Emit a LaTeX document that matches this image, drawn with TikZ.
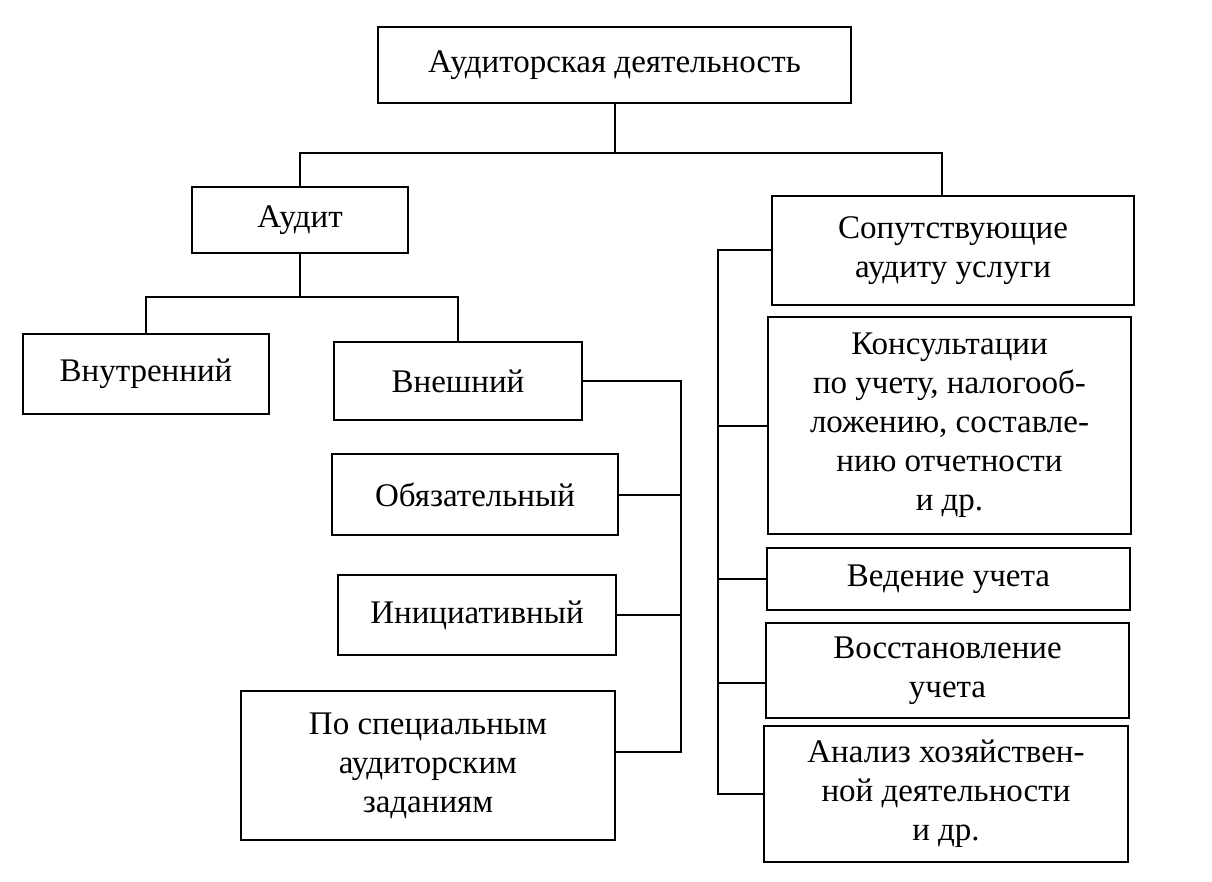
\documentclass[tikz,border=0pt]{standalone}
\usepackage{fontspec}
\setmainfont{Liberation Serif}
\begin{document}
\begin{tikzpicture}[x=1pt,y=-1pt,
  box/.style={draw, line width=2.8pt, inner sep=0pt, align=center,
    font=\fontsize{33}{39}\selectfont},
  con/.style={line width=2pt}]
\useasboundingbox (0,0) rectangle (1212,882);
\node[box, minimum width=473pt, minimum height=76pt] (top) at (614.5,65) {Аудиторская деятельность};
\node[box, minimum width=216pt, minimum height=66pt] (audit) at (300,220) {Аудит};
\node[box, minimum width=362pt, minimum height=109pt] (sop) at (953,250.5) {Сопутствующие\\аудиту услуги};
\node[box, minimum width=246pt, minimum height=80pt] (vnutr) at (146,374) {Внутренний};
\node[box, minimum width=248pt, minimum height=78pt] (vnesh) at (458,381) {Внешний};
\node[box, minimum width=286pt, minimum height=81pt] (obyaz) at (475,494.5) {Обязательный};
\node[box, minimum width=278pt, minimum height=80pt] (inic) at (477,615) {Инициативный};
\node[box, minimum width=374pt, minimum height=149pt] (spec) at (428,765.5) {По специальным\\аудиторским\\заданиям};
\node[box, minimum width=363pt, minimum height=217pt] (kons) at (949.5,425.5) {Консультации\\по учету, налогооб-\\ложению, составле-\\нию отчетности\\и др.};
\node[box, minimum width=363pt, minimum height=62pt] (ved) at (948.5,579) {Ведение учета};
\node[box, minimum width=363pt, minimum height=95pt] (vosst) at (947.5,670.5) {Восстановление\\учета};
\node[box, minimum width=364pt, minimum height=136pt] (anal) at (946,794) {Анализ хозяйствен-\\ной деятельности\\и др.};
% top connectors
\coordinate (j1) at (614.5,153);
\draw[con] (top.south) -- (j1);
\draw[con] (audit.north) |- (j1) -| ([xshift=-11pt]sop.north);
% audit connectors
\coordinate (j2) at (300,297);
\draw[con] (audit.south) -- (j2);
\draw[con] (vnutr.north) |- (j2) -| (vnesh.north);
% right bracket of audit side
\coordinate (B) at (681,0);
\draw[con] (vnesh.east) -- (vnesh.east -| B) -- ([yshift=14pt]spec.east -| B) -- ([yshift=14pt]spec.east);
\draw[con] (obyaz.east) -- (obyaz.east -| B);
\draw[con] (inic.east) -- (inic.east -| B);
% left bracket of services
\coordinate (L) at (718,0);
\draw[con] (sop.west) -- (sop.west -| L) -- (anal.west -| L) -- (anal.west);
\draw[con] (kons.west) -- (kons.west -| L);
\draw[con] (ved.west) -- (ved.west -| L);
\draw[con] ([yshift=-12pt]vosst.west) -- ([yshift=-12pt]vosst.west -| L);
\end{tikzpicture}
\end{document}
